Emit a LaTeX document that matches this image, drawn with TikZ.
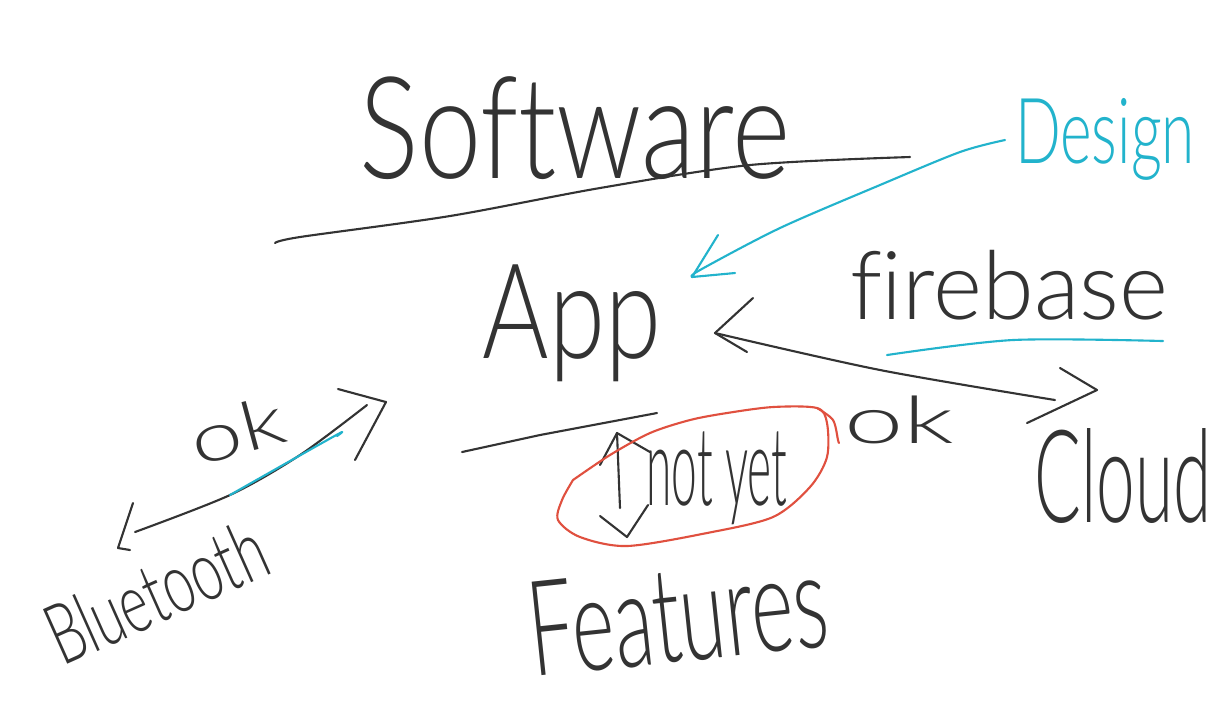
\documentclass[tikz,border=0pt]{standalone}
\usepackage{fontspec}
\usepackage{graphicx}
% light pen-like face for all the words: first light weight that is present
\IfFontExistsTF{Lato Light}
  {\newfontfamily\hand{Lato Light}[Ligatures=NoCommon]}
  {\IfFontExistsTF{DejaVu Sans ExtraLight}
    {\newfontfamily\hand{DejaVu Sans ExtraLight}[Ligatures=NoCommon]}
    {\IfFontExistsTF{Poppins Light}
      {\newfontfamily\hand{Poppins Light}[Ligatures=NoCommon]}
      {\newfontfamily\hand{Fira Sans}[Ligatures=NoCommon]}}}
\newlength\pxu
\setlength\pxu{0.01cm}
% a word squeezed into a box of given width and total height (in px units)
\newcommand\inkword[3]{\resizebox*{#1\pxu}{#2\pxu}{\hand #3}}
\definecolor{inkgray}{HTML}{333333}
\definecolor{cyanink}{HTML}{22B3CC}
\definecolor{redink}{HTML}{E0503F}
\tikzset{
  word/.style={inner sep=0pt, outer sep=0pt, text=inkgray},
  ink/.style={draw=inkgray, line width=0.6pt, line cap=round, line join=round},
  blueink/.style={draw=cyanink, line width=0.6pt, line cap=round, line join=round},
  redpen/.style={draw=redink, line width=0.6pt, line cap=round, line join=round},
}
\begin{document}
\begin{tikzpicture}[x=0.01cm,y=-0.01cm]
\useasboundingbox[fill=white] (0,0) rectangle (1228,720);

% words
\node[word] (software) at (575,128) {\inkword{430}{103}{Software}};
\node[word,text=cyanink] (design) at (1105,139) {\inkword{180}{82}{Design}};
\node[word] (app) at (572,323) {\inkword{178}{117}{App}};
\node[word] (firebase) at (1009,285) {\inkword{318}{70}{firebase}};
\node[word] (okright) at (899,420) {\inkword{110}{48}{ok}};
\node[word] (cloud) at (1123,476) {\inkword{177}{95}{Cloud}};
\node[word] (notyet) at (717,478) {\inkword{141}{93}{not yet}};
\node[word,rotate=6] (features) at (678,615) {\inkword{300}{95}{Features}};
\node[word,rotate=24] (bluetooth) at (156,592) {\inkword{232}{62}{Bluetooth}};
\node[word,rotate=15] (okleft) at (237,430) {\inkword{95}{50}{ok}};

% connector end points
\coordinate (designtail) at (1005,140);
\coordinate (designtip) at (692,277);
\coordinate (cloudend) at (1055,400);
\coordinate (cloudtip) at (1097,390);
\coordinate (apptipr) at (715,333);
\coordinate (btlow) at (135,532);
\coordinate (btlowtip) at (118,548);
\coordinate (bthigh) at (367,405);
\coordinate (bthightip) at (386,402);

% underline of Software
\draw[ink] plot[smooth] coordinates {(275,243) (300,237) (450,216) (600,188) (750,165) (910,157)};
% underline of App
\draw[ink] (462,452) -- (540,435) -- (657,413);
% underline of firebase
\draw[blueink] plot[smooth] coordinates {(887,355) (1013,340) (1163,341)};

% Design -> App
\draw[blueink] plot[smooth] coordinates {(designtail) (960,152) (880,185) (780,228) (700,270) (designtip)};
\draw[blueink] (718,235) -- (designtip) -- (735,273);

% App <-> Cloud
\draw[ink] plot[smooth] coordinates {(apptipr) (880,370) (cloudend)};
\draw[ink] (753,298) -- (apptipr) -- (747,352);
\draw[ink] (1060,368) -- (cloudtip) -- (1027,423);

% Bluetooth <-> App
\draw[ink] plot[smooth] coordinates {(btlow) (230,495) (300,455) (bthigh)};
\draw[ink] (133,503) -- (btlowtip) -- (130,550);
\draw[ink] (338,389) -- (bthightip) -- (355,460);
\draw[blueink] plot[smooth] coordinates {(230,495) (290,461) (340,433) (337,436) (342,432)};

% up/down mark beside "not yet"
\draw[ink] (617,433) -- (620,508);
\draw[ink] (600,465) -- (617,433) -- (650,452);
\draw[ink] (600,516) -- (627,537) -- (648,505);

% red loop round "not yet"
\draw[redpen] plot[smooth] coordinates {
  (573,480) (610,455) (650,433) (690,420) (727,413) (773,407) (817,408)
  (827,423) (827,457) (810,487) (773,517) (707,533) (627,546)
  (580,537) (558,520) (562,500) (573,480)};
\draw[redpen] plot[smooth] coordinates {(817,408) (833,420) (838,440) (839,443)};
\end{tikzpicture}
\end{document}
